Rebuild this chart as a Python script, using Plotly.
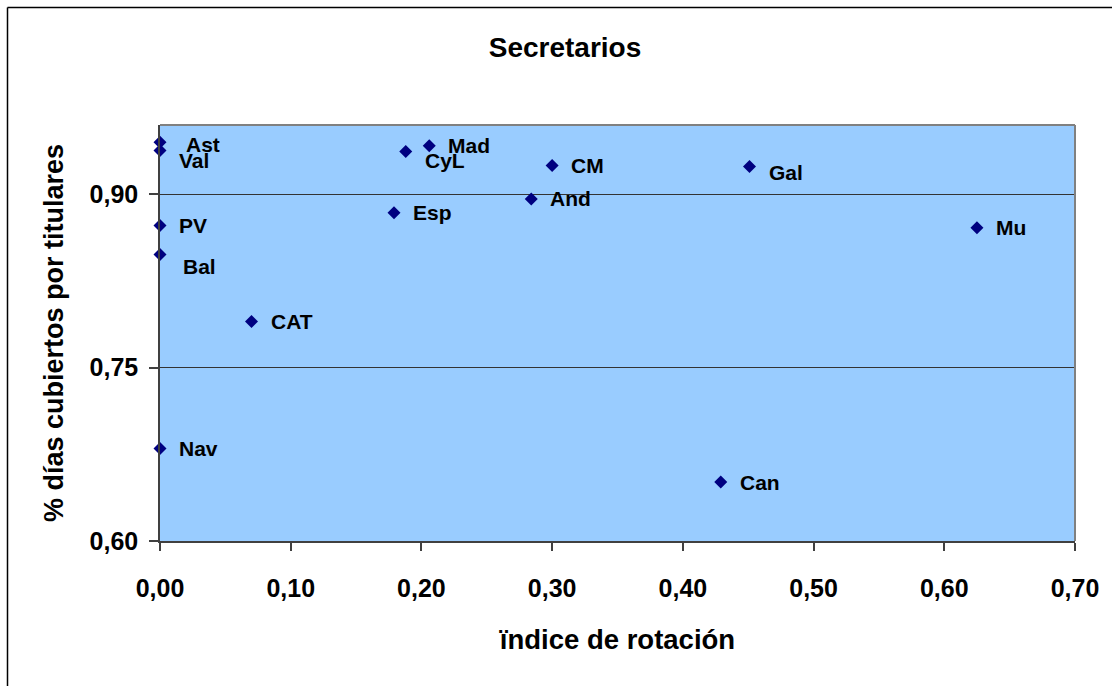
import plotly.graph_objects as go

# ---- data ----
regions = ["Ast", "Val", "PV", "Bal", "Nav", "CAT", "Esp", "CyL", "Mad",
           "And", "CM", "Can", "Gal", "Mu"]
rotation_index = [0.000, 0.000, 0.000, 0.000, 0.000, 0.070, 0.179, 0.188, 0.206,
                  0.284, 0.300, 0.429, 0.451, 0.625]
pct_days_covered = [0.945, 0.938, 0.873, 0.848, 0.680, 0.790, 0.884, 0.937, 0.942,
                    0.896, 0.925, 0.651, 0.924, 0.871]
x_tick_vals = [0.0, 0.1, 0.2, 0.3, 0.4, 0.5, 0.6, 0.7]
x_tick_text = ["0,00", "0,10", "0,20", "0,30", "0,40", "0,50", "0,60", "0,70"]
y_tick_vals = [0.60, 0.75, 0.90]
y_tick_text = ["0,60", "0,75", "0,90"]

# label offsets in pixels (style only): (xshift, yshift)
label_offsets = {"Ast": (24, -2), "Val": (17, -10), "Bal": (21, -12),
                 "CyL": (17, -9), "Gal": (17, -6)}

FONT = "Arial, 'Liberation Sans', sans-serif"
W, H = 1112, 686
ML, MR, MT, MB = 160, 37, 125, 145
PW, PH = W - ML - MR, H - MT - MB

fig = go.Figure()
fig.add_trace(go.Scatter(
    x=rotation_index, y=pct_days_covered, mode="markers",
    marker=dict(symbol="diamond", size=10, color="#000080"),
    cliponaxis=False, showlegend=False, hoverinfo="text", text=regions,
))

annotations = []
for name, xv, yv in zip(regions, rotation_index, pct_days_covered):
    dx, dy = label_offsets.get(name, (17, 0))
    annotations.append(dict(
        x=xv, y=yv, xref="x", yref="y", text=f"<b>{name}</b>", showarrow=False,
        xanchor="left", yanchor="middle", xshift=dx, yshift=dy,
        font=dict(family=FONT, size=21, color="black"),
    ))

def px_to_paper_x(px):
    return (px - ML) / PW

def py_to_paper_y(py):
    return (H - MB - py) / PH

shapes = [
    # plot-area border (top and right)
    dict(type="line", xref="paper", yref="paper", x0=0, x1=1, y0=1, y1=1,
         line=dict(color="#808080", width=2)),
    dict(type="line", xref="paper", yref="paper", x0=1, x1=1, y0=0, y1=1,
         line=dict(color="#808080", width=2)),
    # outer chart border (left and top)
    dict(type="line", xref="paper", yref="paper",
         x0=px_to_paper_x(7.5), x1=px_to_paper_x(1112),
         y0=py_to_paper_y(7.5), y1=py_to_paper_y(7.5),
         line=dict(color="black", width=1.5)),
    dict(type="line", xref="paper", yref="paper",
         x0=px_to_paper_x(7.5), x1=px_to_paper_x(7.5),
         y0=py_to_paper_y(7.5), y1=py_to_paper_y(686),
         line=dict(color="black", width=1.5)),
]

fig.update_layout(
    width=W, height=H,
    margin=dict(l=ML, r=MR, t=MT, b=MB, pad=0),
    paper_bgcolor="white", plot_bgcolor="#99CCFF",
    font=dict(family=FONT, color="black"),
    title=dict(text="<b>Secretarios</b>", xref="container", yref="container",
               x=565 / W, y=1 - 47 / H, xanchor="center", yanchor="middle",
               font=dict(family=FONT, size=28, color="black")),
    xaxis=dict(range=[0, 0.70], tickvals=x_tick_vals, ticktext=x_tick_text,
               showgrid=False, zeroline=False, showline=True,
               linecolor="#404040", linewidth=1.5,
               ticks="outside", ticklen=8, tickcolor="#404040", tickwidth=1.5,
               ticklabelstandoff=16,
               tickfont=dict(family=FONT, size=25, color="black", weight="bold"),
               title=dict(text="<b>ïndice de rotación</b>", standoff=29,
                          font=dict(family=FONT, size=27.5, color="black"))),
    yaxis=dict(range=[0.60, 0.96], tickvals=y_tick_vals, ticktext=y_tick_text,
               showgrid=True, gridcolor="#333333", gridwidth=1,
               zeroline=False, showline=True,
               linecolor="#404040", linewidth=1.5,
               ticks="outside", ticklen=9, tickcolor="#404040", tickwidth=1.5,
               ticklabelstandoff=6,
               tickfont=dict(family=FONT, size=25, color="black", weight="bold"),
               title=dict(text="<b>% días cubiertos por titulares</b>", standoff=18,
                          font=dict(family=FONT, size=27, color="black"))),
    annotations=annotations,
    shapes=shapes,
)

fig.write_html("out.html", config={"displayModeBar": False},
               post_script="document.body.style.margin='0';document.body.style.overflow='hidden';")
